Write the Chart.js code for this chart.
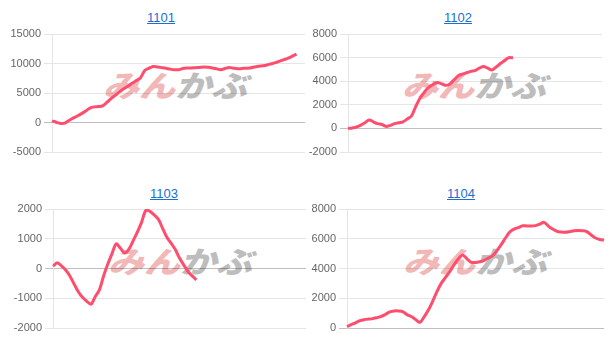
<!DOCTYPE html>
<html>
<head>
<meta charset="utf-8">
<script src="https://cdn.jsdelivr.net/npm/chart.js@4.4.1/dist/chart.umd.min.js"></script>
<style>
	html, body { margin: 0; padding: 0; background: #fff; }
	body { width: 613px; height: 350px; position: relative; overflow: hidden; font-family: "Liberation Sans", Arial, sans-serif; }
	.ttl { position: absolute; width: 80px; margin-left: -40px; text-align: center; font-size: 13px; line-height: 15px; color: #1a6fd0; text-decoration: underline; }
	.wm { position: absolute; font-family: "Noto Sans CJK JP", sans-serif; font-weight: 900; font-style: italic; font-size: 30px; line-height: 31px; white-space: nowrap; transform: scaleX(1.2); transform-origin: 0 0; }
	.wm .a { color: #f2b8b8; }
	.wm .b { color: #bdbdbd; }
	.box { position: absolute; }
	canvas { display: block; }
</style>
</head>
<body>
<a class="ttl" style="left:161px;top:10px">1101</a>
<a class="ttl" style="left:458px;top:10px">1102</a>
<a class="ttl" style="left:164px;top:186px">1103</a>
<a class="ttl" style="left:461px;top:186px">1104</a>

<div class="wm" style="left:103px;top:69px"><span class="a">みん</span><span class="b">かぶ</span></div>
<div class="wm" style="left:402px;top:69px"><span class="a">みん</span><span class="b">かぶ</span></div>
<div class="wm" style="left:108px;top:245px"><span class="a">みん</span><span class="b">かぶ</span></div>
<div class="wm" style="left:403px;top:245px"><span class="a">みん</span><span class="b">かぶ</span></div>

<div class="box" style="left:0;top:24px"><canvas id="c1101" width="306" height="138"></canvas></div>
<div class="box" style="left:306px;top:24px"><canvas id="c1102" width="297" height="138"></canvas></div>
<div class="box" style="left:0;top:199px"><canvas id="c1103" width="307" height="139"></canvas></div>
<div class="box" style="left:307px;top:199px"><canvas id="c1104" width="299" height="139"></canvas></div>

<script>
// x axis is hidden; one slot per point
var days = ['1','2','3','4','5','6','7','8','9','10','11','12','13','14','15','16','17','18','19','20',
	'21','22','23','24','25','26','27','28','29','30','31','32','33','34','35','36','37','38','39','40',
	'41','42','43','44','45','46','47','48','49','50','51','52','53','54','55','56','57','58','59','60','61'];

var v1101 = [283, 50, -150, -100, 350, 750, 1100, 1500, 1950, 2450, 2650, 2700, 2830, 3400, 4050, 4600,
	5200, 5700, 6150, 6650, 7100, 7600, 8800, 9200, 9500, 9400, 9300, 9200, 9050, 8950, 8950, 9150,
	9230, 9250, 9300, 9340, 9400, 9350, 9250, 9100, 8950, 9150, 9340, 9200, 9100, 9150, 9200, 9250,
	9400, 9550, 9620, 9750, 9950, 10150, 10400, 10650, 10900, 11250, 11600];

var v1102 = [0, 40, 120, 280, 480, 720, 550, 400, 330, 170, 260, 400, 480, 560, 800, 1050, 1850, 2550,
	3050, 3450, 3700, 3880, 3800, 3650, 3750, 4100, 4450, 4600, 4720, 4830, 4900, 5100, 5250, 5100,
	4950, 5200, 5500, 5750, 6000, 5980];

var v1103 = [78, 190, 90, -50, -250, -520, -780, -970, -1100, -1200, -950, -720, -250, 150, 500, 830,
	680, 520, 650, 930, 1220, 1550, 1950, 1920, 1800, 1650, 1350, 1050, 850, 640, 350, 120, -100, -250, -380];

var v1104 = [90, 230, 350, 490, 560, 600, 630, 700, 780, 920, 1080, 1150, 1150, 1100, 900, 770, 580, 380,
	750, 1210, 1800, 2450, 3000, 3400, 3800, 4250, 4650, 4900, 4650, 4420, 4400, 4450, 4550, 4700, 4850,
	5200, 5600, 6050, 6450, 6650, 6750, 6870, 6860, 6850, 6880, 6980, 7100, 6850, 6650, 6500, 6450, 6430,
	6480, 6540, 6560, 6540, 6480, 6250, 6050, 5950, 5910];

// [min, max, step]
var ticks1101 = [-5000, 15000, 5000];
var ticks1102 = [-2000, 8000, 2000];
var ticks1103 = [-2000, 2000, 1000];
var ticks1104 = [0, 8000, 2000];

var lineColor = 'rgb(255, 77, 109)';

function gridColor(ctx) {
	return ctx.tick && ctx.tick.value === 0 ? 'rgba(0,0,0,0.25)' : 'rgba(0,0,0,0.1)';
}

function drawPanel(id, values, range, axisWidth, padRight) {
	new Chart(document.getElementById(id), {
		type: 'line',
		data: {
			labels: days,
			datasets: [{
				data: values,
				borderColor: lineColor,
				borderWidth: 3,
				pointRadius: 0,
				tension: 0.3,
				fill: false
			}]
		},
		options: {
			responsive: false,
			animation: false,
			devicePixelRatio: 1,
			layout: { padding: { top: 10, bottom: 10, left: 0, right: padRight } },
			plugins: { legend: { display: false }, tooltip: { enabled: false } },
			scales: {
				x: { display: false },
				y: {
					min: range[0],
					max: range[1],
					ticks: {
						stepSize: range[2],
						color: '#666',
						padding: 3,
						font: { family: '"Liberation Sans", Arial', size: 11 },
						callback: function (v) { return String(v); }
					},
					grid: { color: gridColor, tickLength: 8 },
					border: { color: 'rgba(0,0,0,0.1)' },
					afterFit: function (s) { s.width = axisWidth; }
				}
			}
		}
	});
}

drawPanel('c1101', v1101, ticks1101, 52, 1);
drawPanel('c1102', v1102, ticks1102, 42, 1);
drawPanel('c1103', v1103, ticks1103, 53, 1);
drawPanel('c1104', v1104, ticks1104, 40, 2);
</script>
</body>
</html>
